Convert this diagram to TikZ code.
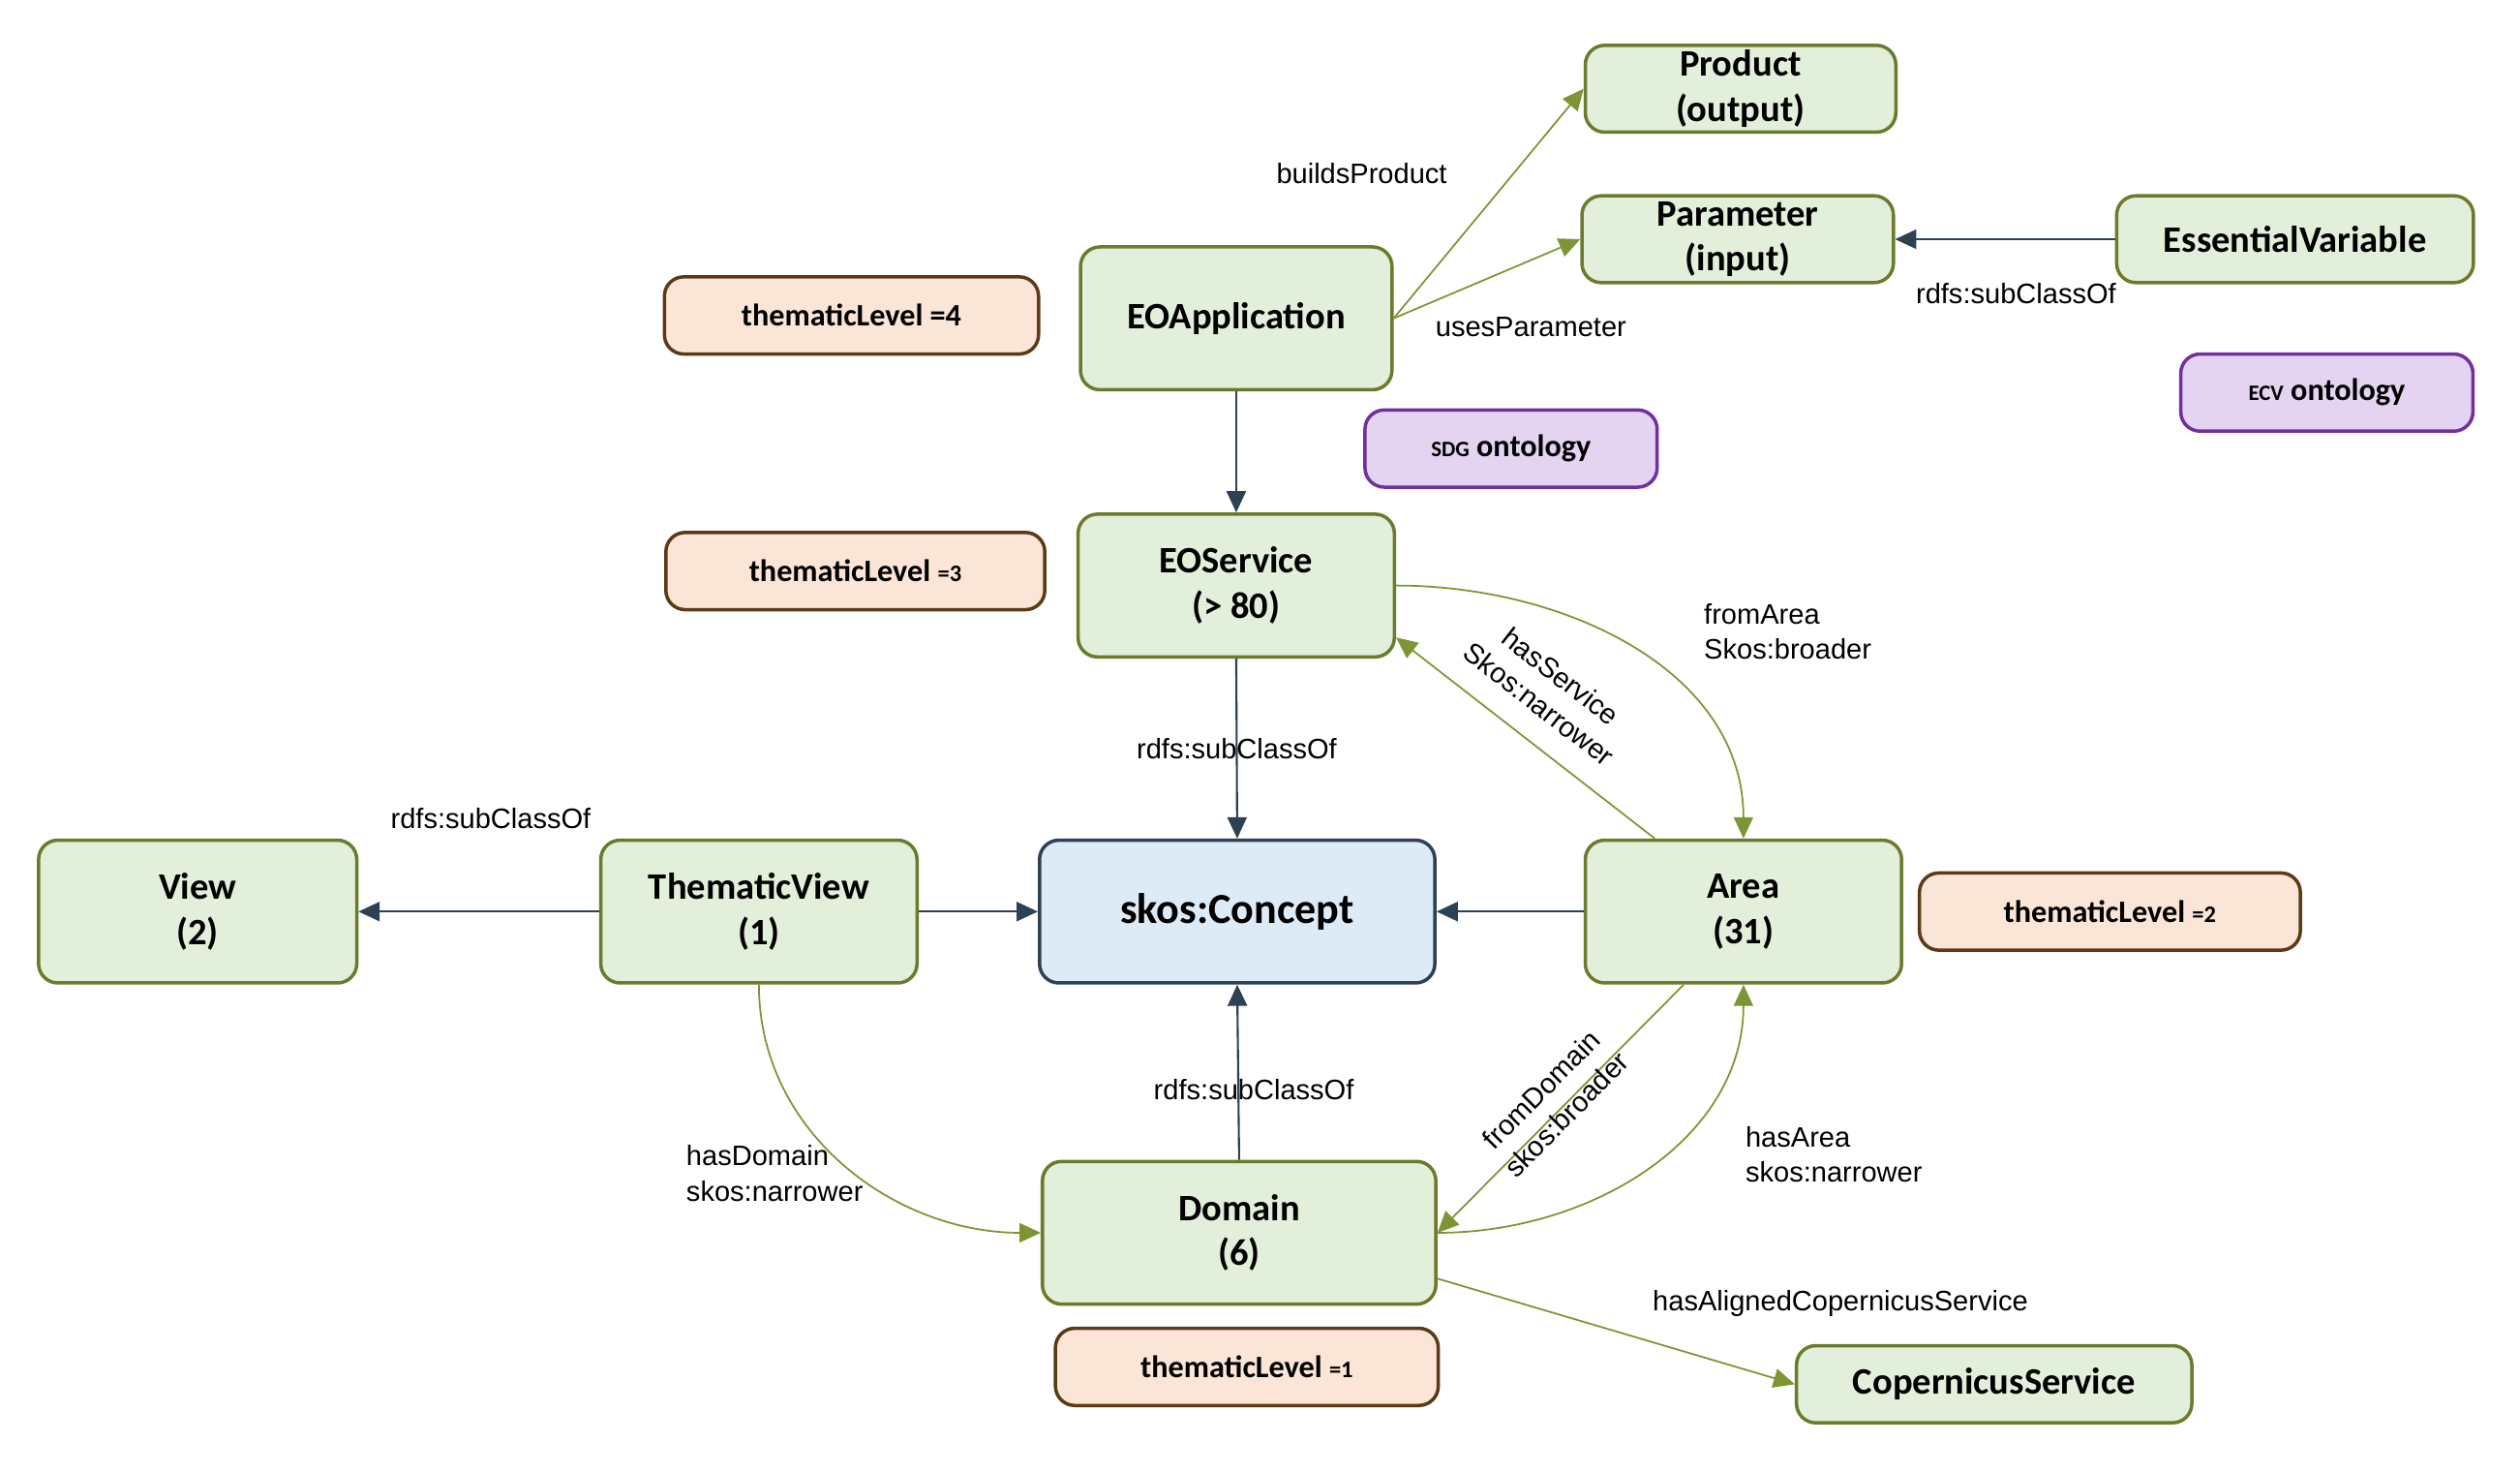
\documentclass[tikz,border=0pt]{standalone}
\usepackage{fontspec}
\setmainfont{Carlito}
\newfontfamily\lblfont{Liberation Sans}
\usetikzlibrary{arrows.meta}

\definecolor{clsfill}{HTML}{E2EFDA}
\definecolor{clsline}{HTML}{6B7B2C}
\definecolor{relgreen}{HTML}{7E9435}
\definecolor{subdark}{HTML}{2E4054}
\definecolor{conceptfill}{HTML}{DDEBF7}
\definecolor{levelfill}{HTML}{FBE5D6}
\definecolor{levelline}{HTML}{5A3A18}
\definecolor{ontofill}{HTML}{E4D4F2}
\definecolor{ontoline}{HTML}{7030A0}

\begin{document}
\begin{tikzpicture}[
  every node/.style={align=center, inner sep=0pt},
  cls/.style={draw=clsline, fill=clsfill, line width=1pt, rounded corners=0.2cm,
              minimum width=3.28cm, minimum height=1.48cm,
              font=\fontsize{11}{13.3}\selectfont\bfseries},
  concept/.style={cls, draw=subdark, fill=conceptfill, minimum width=4.1cm,
                  font=\fontsize{12.6}{15}\selectfont\bfseries},
  level/.style={draw=levelline, fill=levelfill, line width=1pt, rounded corners=0.2cm,
                minimum width=3.93cm, minimum height=0.8cm,
                font=\fontsize{9.2}{11}\selectfont\bfseries},
  onto/.style={level, draw=ontoline, fill=ontofill, minimum width=3.03cm},
  subcl/.style={draw=subdark, line width=0.6pt, -{Triangle[length=0.22cm, width=0.2cm]}},
  rel/.style={draw=relgreen, line width=0.5pt, -{Triangle[length=0.22cm, width=0.2cm]}},
  lbl/.style={font=\lblfont\fontsize{8.3}{10.4}\selectfont, align=left}
]
\useasboundingbox (0,0) rectangle (26.133,-15.27);

% classes
\node[cls, minimum width=3.22cm, minimum height=0.9cm] (product) at (18.05,-0.92) {Product\\(output)};
\node[cls, minimum width=3.23cm, minimum height=0.9cm] (param) at (18.02,-2.48) {Parameter\\(input)};
\node[cls, minimum width=3.7cm, minimum height=0.9cm] (essvar) at (23.8,-2.48) {EssentialVariable};
\node[cls, minimum width=3.23cm] (eoapp) at (12.82,-3.3) {EOApplication};
\node[cls] (eoserv) at (12.82,-6.07) {EOService\\(> 80)};
\node[cls, minimum width=3.3cm] (view) at (2.05,-9.45) {View\\(2)};
\node[cls] (thview) at (7.87,-9.45) {ThematicView\\(1)};
\node[concept] (concept) at (12.83,-9.45) {skos:Concept};
\node[cls] (area) at (18.08,-9.45) {Area\\(31)};
\node[cls, minimum width=4.08cm] (domain) at (12.85,-12.78) {Domain\\(6)};
\node[cls, minimum width=4.1cm, minimum height=0.8cm] (copserv) at (20.68,-14.35) {CopernicusService};

% thematic levels and ontologies
\node[level, minimum width=3.88cm] (lvl4) at (8.83,-3.27) {thematicLevel =4};
\node[level] (lvl3) at (8.87,-5.92) {thematicLevel {\fontsize{7}{8}\selectfont=3}};
\node[level, minimum width=3.95cm] (lvl2) at (21.88,-9.45) {thematicLevel {\fontsize{7}{8}\selectfont=2}};
\node[level, minimum width=3.97cm] (lvl1) at (12.93,-14.17) {thematicLevel {\fontsize{7}{8}\selectfont=1}};
\node[onto] (sdg) at (15.67,-4.65) {{\fontsize{6.5}{8}\selectfont SDG} ontology};
\node[onto] (ecv) at (24.13,-4.07) {{\fontsize{6.5}{8}\selectfont ECV} ontology};

% subclass links
\draw[subcl] (essvar.west) -- node[lbl, pos=0.45, below=0.45cm] {rdfs:subClassOf} (param.east);
\draw[subcl] (eoapp.south) -- (eoserv.north);
\draw[subcl] (eoserv.south) -- node[lbl, pos=0.5] {rdfs:subClassOf} (concept.north);
\draw[subcl] (thview.west) -- node[lbl, pos=0.45, above=0.85cm] {rdfs:subClassOf} (view.east);
\draw[subcl] (thview.east) -- (concept.west);
\draw[subcl] (area.west) -- (concept.east);
\draw[subcl] (domain.north) -- node[lbl, pos=0.4, xshift=0.16cm] {rdfs:subClassOf} (concept.south);

% relations
\draw[rel] (eoapp.east) -- node[lbl, pos=0.63, left=0.68cm] {buildsProduct} (product.west);
\draw[rel] (eoapp.east) -- node[lbl, pos=0.22, anchor=west, yshift=-0.27cm] {usesParameter} (param.west);
\draw[rel] (eoserv.east) to[out=0, in=90]
  node[lbl, pos=0.5, anchor=west, xshift=0.73cm, yshift=0.18cm] {fromArea\\Skos:broader} (area.north);
\draw[rel] ([xshift=-0.92cm]area.north) --
  node[lbl, pos=0.53, sloped, above=0.25cm, align=center] {hasService\\Skos:narrower} (eoserv.-18);
\draw[rel] (thview.south) to[out=-90, in=180]
  node[lbl, pos=0.5, anchor=west, xshift=-1.65cm, yshift=-0.1cm] {hasDomain\\skos:narrower} (domain.west);
\draw[rel] ([xshift=-0.62cm]area.south) --
  node[lbl, pos=0.5, sloped, above=-0.2cm, align=center] {fromDomain\\skos:broader} (domain.east);
\draw[rel] (domain.east) to[out=0, in=-90]
  node[lbl, pos=0.5, anchor=west, xshift=1.0cm, yshift=0.125cm] {hasArea\\skos:narrower} (area.south);
\draw[rel] (domain.-13) --
  node[lbl, pos=0.6, anchor=south west, yshift=0.25cm] {hasAlignedCopernicusService} (copserv.west);
\end{tikzpicture}
\end{document}
